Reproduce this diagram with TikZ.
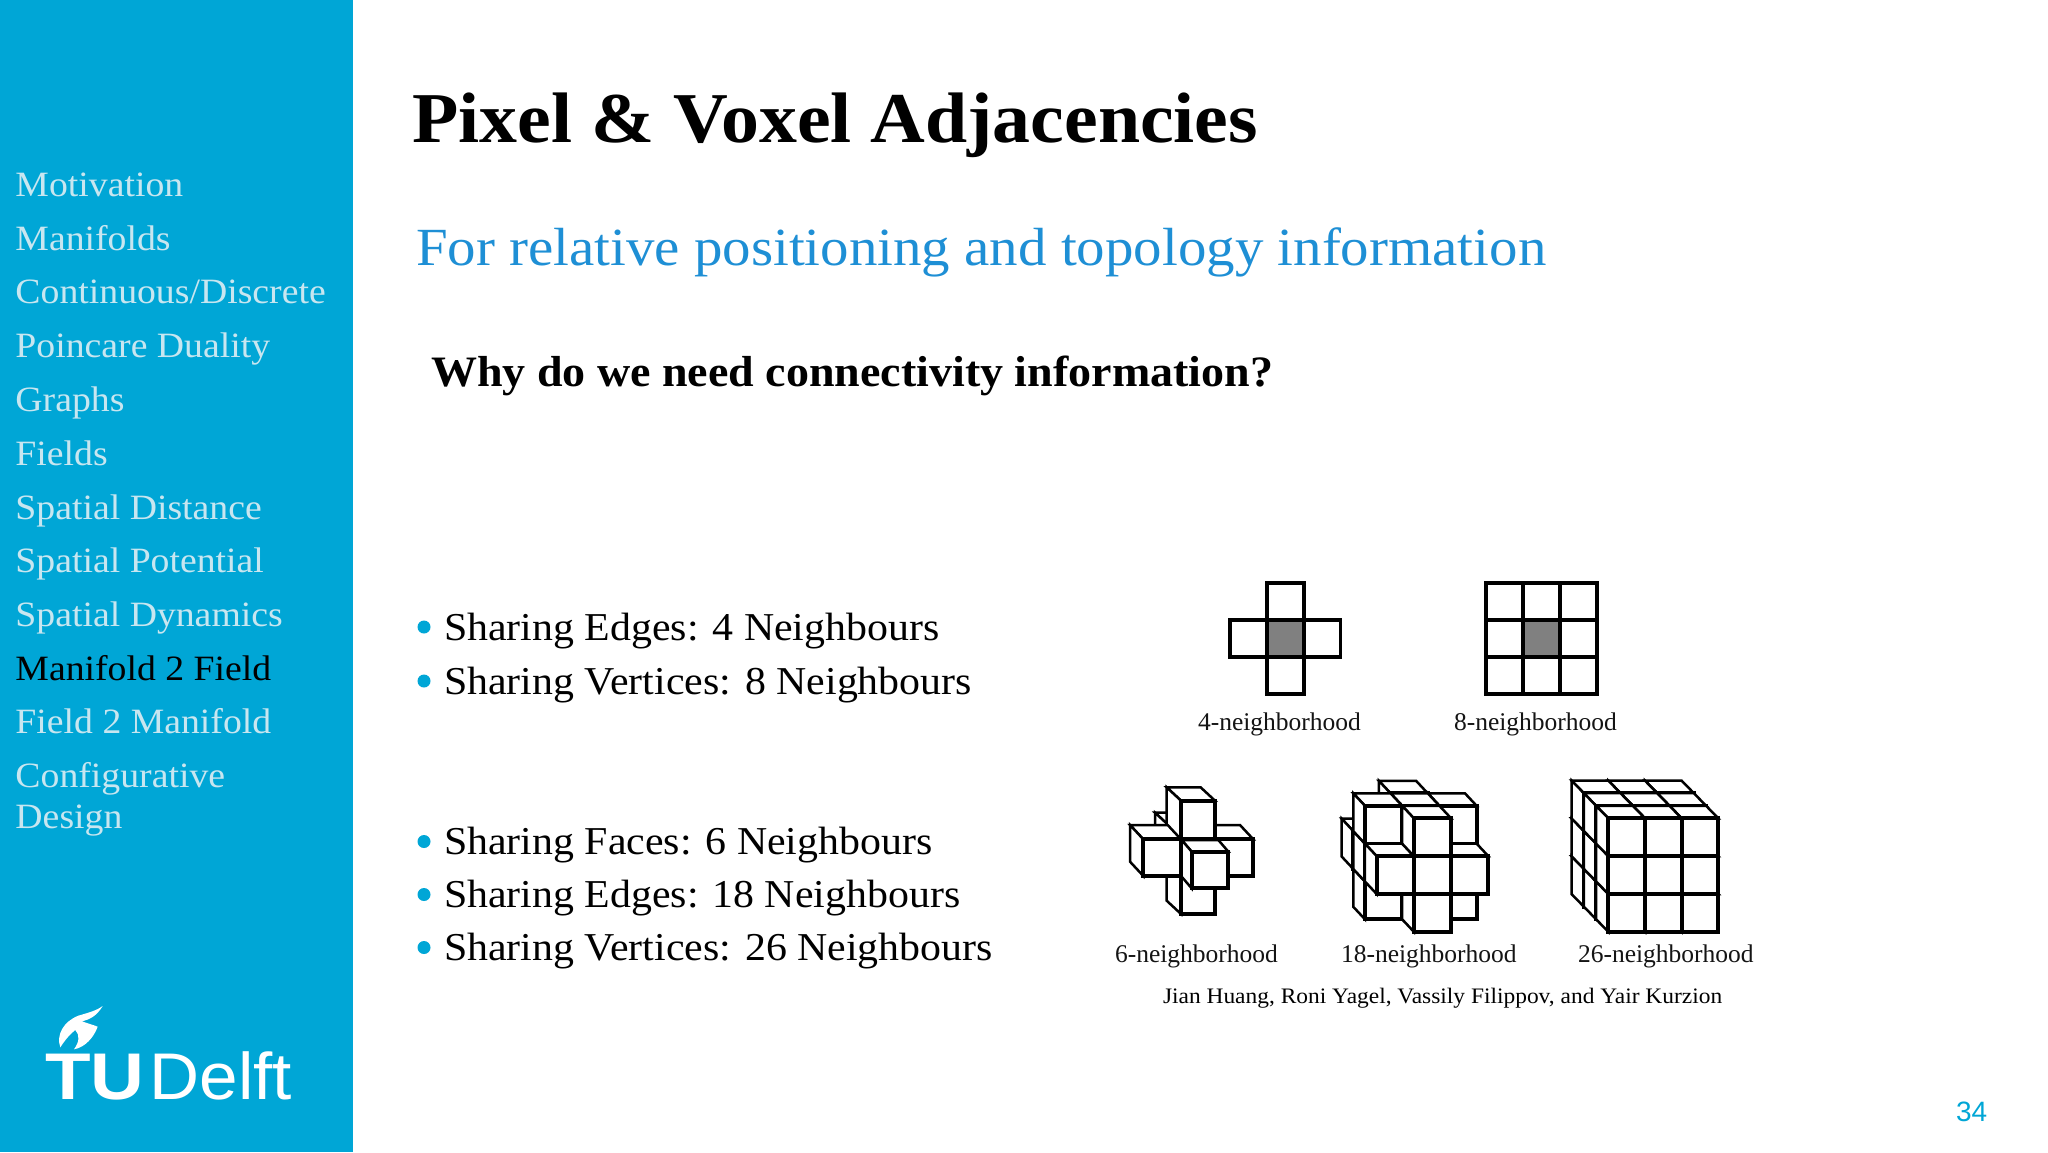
\documentclass[tikz,border=0pt]{standalone}
\usepackage{fontspec}
\setmainfont{Liberation Serif}
\newfontfamily\palat[FakeStretch=1.06]{Liberation Serif}
\newfontfamily\tnr{Liberation Serif}
\newfontfamily\arial{Liberation Sans}
\newfontfamily\arialTU[FakeStretch=1.13]{Liberation Sans}
\newfontfamily\arialD[FakeStretch=1.05]{Liberation Sans}
\definecolor{tublue}{HTML}{00A6D6}
\definecolor{sideText}{HTML}{C8E6F0}
\definecolor{subBlue}{HTML}{1E8FD5}
\definecolor{midgray}{HTML}{808080}
\tikzset{
  txt/.style={anchor=base west,inner sep=0pt,outer sep=0pt},
  side/.style={txt,text=sideText,font=\palat\fontsize{35.6}{40}\selectfont},
  body/.style={txt,text=black,font=\palat\fontsize{39.5}{42}\selectfont},
  bull/.style={circle,fill=tublue,inner sep=0pt,minimum size=13pt},
  nbcap/.style={txt,text=black!92,font=\tnr\fontsize{25.5}{28}\selectfont},
  thin face/.style={draw=black,fill=white,line width=2.5pt,line join=miter},
  thick face/.style={draw=black,fill=white,line width=3.8pt,line join=miter},
  grid cell/.style={draw=black,fill=white,line width=3.8pt},
  mid cell/.style={draw=black,fill=midgray,line width=3.8pt},
}
\newcommand{\vcube}[6]{%
  \path[thin face] (#1,#2)--++(#5,#6)--++(#3,0)--++(-#5,-#6)--cycle;
  \path[thin face] (#1,#2)--++(#5,#6)--++(0,#4)--++(-#5,-#6)--cycle;
  \path[thick face] (#1,#2) rectangle ++(#3,#4);
}
\begin{document}
\begin{tikzpicture}[x=1pt,y=-1pt]
\useasboundingbox (0,0) rectangle (2048,1152);
\fill[white] (0,0) rectangle (2048,1152);
\fill[tublue] (0,0) rectangle (353,1152);
% sidebar
\node[side] (s1) at (15.5,196) {Motivation};
\node[side] (s2) at (15.5,250) {Manifolds};
\node[side] (s3) at (15.5,303.4) {Continuous/Discrete};
\node[side] (s4) at (15.5,357.4) {Poincare Duality};
\node[side] (s5) at (15.5,411.7) {Graphs};
\node[side] (s6) at (15.5,465.4) {Fields};
\node[side] (s7) at (15.5,519.1) {Spatial Distance};
\node[side] (s8) at (15.5,572.8) {Spatial Potential};
\node[side] (s9) at (15.5,626.5) {Spatial Dynamics};
\node[side,text=black] (s10) at (15.5,680.2) {Manifold 2 Field};
\node[side] (s11) at (15.5,733.9) {Field 2 Manifold};
\node[side] (s12) at (15.5,787.6) {Configurative};
\node[side] (s13) at (15.5,828.4) {Design};
% logo
\begin{scope}[shift={(0,980)},x=0.3333pt,y=-0.3333pt]
\fill[white] (308,78) .. controls (290,108) and (270,118) .. (246,124)
  .. controls (262,130) and (278,134) .. (293,140)
  .. controls (282,172) and (255,202) .. (222,208)
  .. controls (238,186) and (240,165) .. (226,150)
  .. controls (212,160) and (195,180) .. (181,202)
  .. controls (168,165) and (190,125) .. (235,107)
  .. controls (262,99) and (290,92) .. (308,78) -- cycle;
\end{scope}
\node[txt,text=white,font=\arialTU\bfseries\fontsize{66}{70}\selectfont] (tu) at (45,1099) {TU};
\node[txt,text=white,font=\arialD\fontsize{66}{70}\selectfont] (delft) at (149.5,1099) {Delft};
% headings
\node[txt,font=\palat\bfseries\fontsize{71.5}{76}\selectfont] (title) at (412.5,142.7) {Pixel \& Voxel Adjacencies};
\node[txt,text=subBlue,font=\palat\fontsize{53.7}{58}\selectfont] (sub) at (416,265.5) {For relative positioning and topology information};
\node[txt,font=\palat\bfseries\fontsize{43.4}{46}\selectfont] (why) at (431,386) {Why do we need connectivity information?};
% bullets
\foreach \n/\yy/\tx in {b1/640/{Sharing Edges: 4 Neighbours},b2/694/{Sharing Vertices: 8 Neighbours},b3/854.5/{Sharing Faces: 6 Neighbours},b4/907.5/{Sharing Edges: 18 Neighbours},b5/960.5/{Sharing Vertices: 26 Neighbours}}{
  \node[bull] (d\n) at (424,\yy-13) {};
  \node[body] (\n) at (444,\yy) {\tx};
}
% 2-D neighbourhoods
\foreach \c/\r in {1/0,0/1,2/1,1/2}{
  \path[grid cell] ({1230+36.8*\c},{583+37*\r}) rectangle ++(36.8,37);
}
\path[mid cell] ({1230+36.8},{583+37}) rectangle ++(36.8,37);
\foreach \c in {0,1,2}{\foreach \r in {0,1,2}{
  \path[grid cell] ({1486+37*\c},{583+37*\r}) rectangle ++(37,37);
}}
\path[mid cell] ({1486+37},{583+37}) rectangle ++(37,37);
% 6
\begin{scope}[shift={(1100,760)},x=0.3333pt,y=-0.3333pt]
\vcube{205}{195}{100}{100}{-40}{-37}
\vcube{243}{350}{102}{112}{-43}{-40}
\vcube{345}{238}{115}{110}{-40}{-43}
\vcube{243}{122}{102}{116}{-43}{-40}
\vcube{130}{238}{113}{110}{-40}{-43}
\vcube{275}{275}{110}{110}{-30}{-35}
\end{scope}
% 18
\begin{scope}[shift={(1100,760)},x=0.3333pt,y=-0.3333pt]
\foreach \k in {2,1,0}{\foreach \j in {2,1,0}{\foreach \i in {2,1,0}{
  \pgfmathtruncatemacro{\dist}{abs(\i-1)+abs(\j-1)+abs(\k-1)}
  \ifnum\dist<3
    \pgfmathsetmacro{\xa}{830+111.7*\i-35*\k}
    \pgfmathsetmacro{\ya}{175+113.5*\j-37.5*\k}
    \vcube{\xa}{\ya}{111.7}{113.5}{-35}{-37.5}
  \fi
}}}
\end{scope}
% 26
\begin{scope}[shift={(1480,760)},x=0.3333pt,y=-0.3333pt]
\foreach \k in {2,1,0}{\foreach \j in {2,1,0}{\foreach \i in {2,1,0}{
    \pgfmathsetmacro{\xa}{385+110*\i-36.7*\k}
    \pgfmathsetmacro{\ya}{175+113.5*\j-37.7*\k}
    \vcube{\xa}{\ya}{110}{113.5}{-36.7}{-37.7}
}}}
\end{scope}
% labels
\node[nbcap] (l4) at (1198,730) {4-neighborhood};
\node[nbcap] (l8) at (1454,730) {8-neighborhood};
\node[nbcap] (l6) at (1115,962) {6-neighborhood};
\node[nbcap] (l18) at (1341,962) {18-neighborhood};
\node[nbcap] (l26) at (1578,962) {26-neighborhood};
\node[txt,font=\palat\fontsize{22.1}{26}\selectfont] (cite) at (1163,1003.5) {Jian Huang, Roni Yagel, Vassily Filippov, and Yair Kurzion};
\node[txt,text=tublue,font=\arial\fontsize{28}{30}\selectfont] (num) at (1956,1121) {34};
\end{tikzpicture}
\end{document}
